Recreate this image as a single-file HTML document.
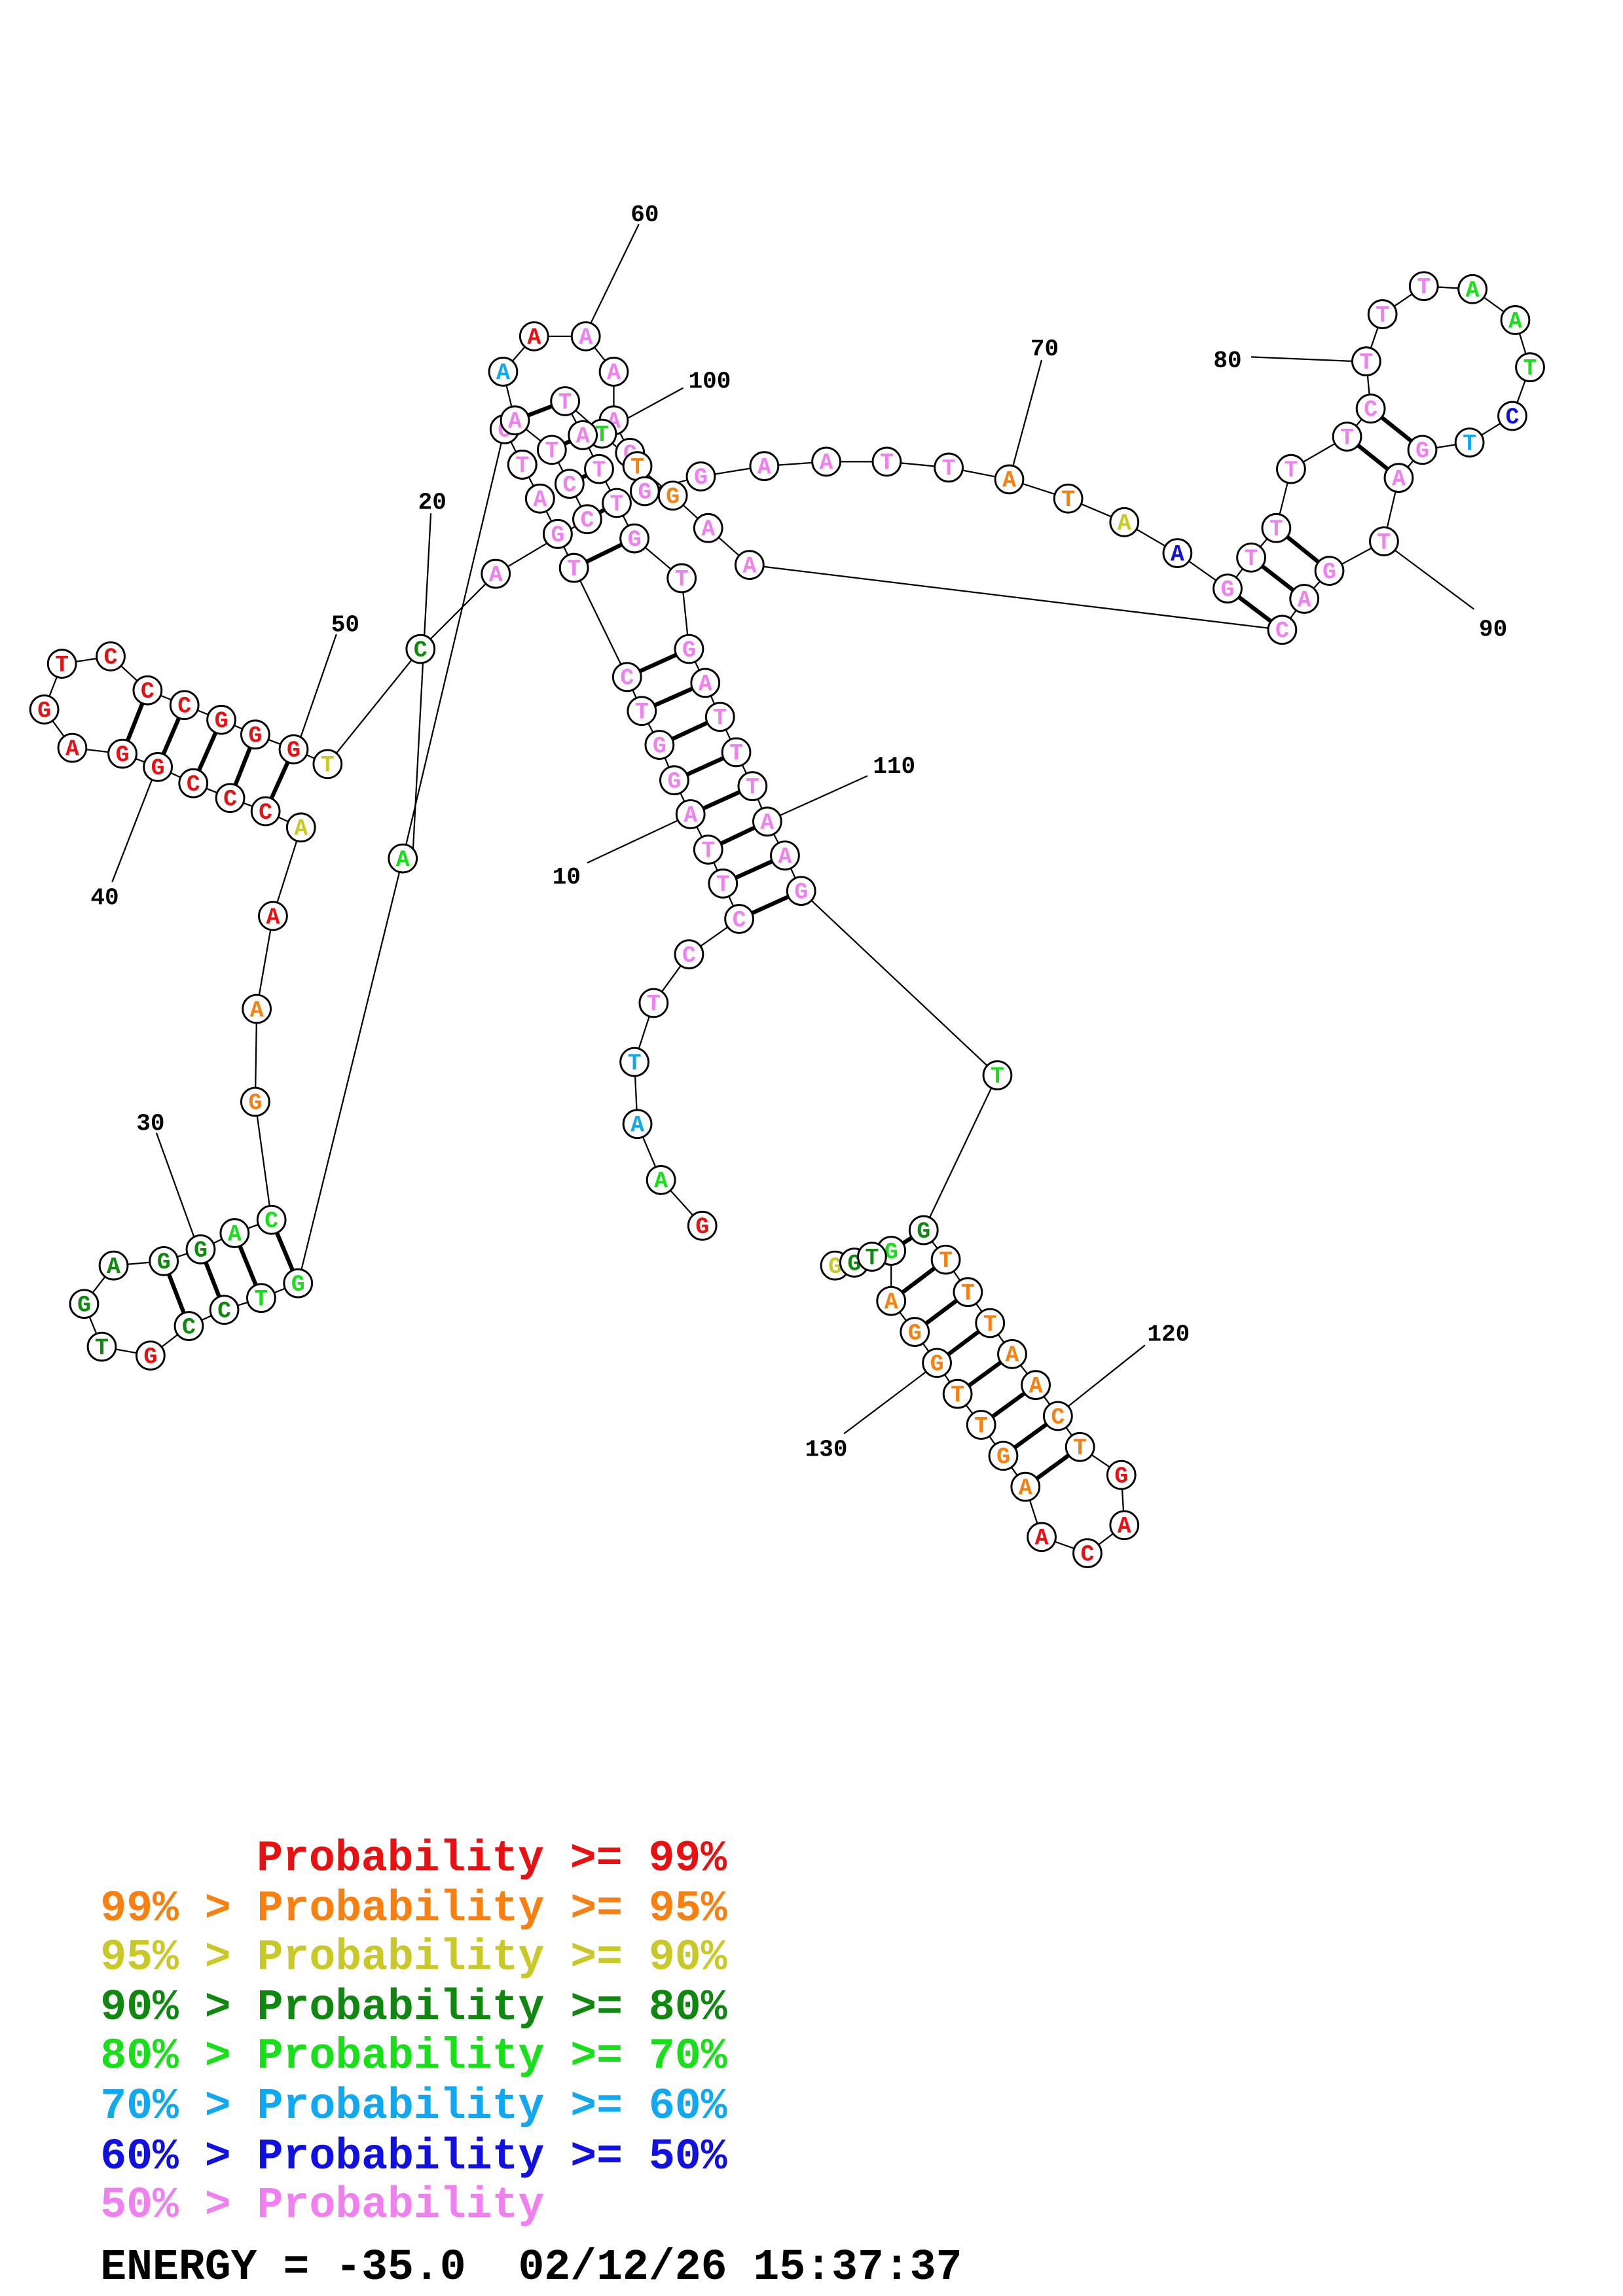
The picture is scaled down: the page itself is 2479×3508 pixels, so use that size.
<!DOCTYPE html>
<html><head><meta charset="utf-8"><style>
html,body{margin:0;padding:0;background:#fff}
svg{display:block}
.n circle{fill:#fff;stroke:#000;stroke-width:1.3}
.n text{font-family:"Liberation Mono",monospace;font-weight:bold;font-size:15.5px;text-anchor:middle}
.r{fill:#e81010}.o{fill:#f88010}.y{fill:#c8c828}.d{fill:#108810}.g{fill:#18e018}.s{fill:#10a8f0}.b{fill:#1010e0}.p{fill:#f080f0}
.lab{font-family:"Liberation Mono",monospace;font-size:16px;fill:#000;font-weight:bold}
.leg{font-family:"Liberation Mono",monospace;font-weight:bold;font-size:29.5px}
</style></head><body>
<svg width="2479" height="3508" viewBox="0 0 1100 1556.6" xmlns="http://www.w3.org/2000/svg">
<rect width="1100" height="1556.6" fill="#fff"/>
<g stroke="#000" stroke-width="1" fill="none">
<polyline points="476,831 448,800 432,762 430,720 443,680 467,647 501,623 490,599 480,576 468,552 457,529 447,505 435,482 425,459 389,385 378,362 366,338 354,315 342,291 273,582 202,870 177,880 152,888 128,899 102,919 69,913 57,884 77,858 111,855 136,847 159,836 184,827 173,747 174,684 185,621 204,561 180,550 156,541 131,531 107,520 83,511 49,507 30,481 42,450 75,445 100,468 125,478 150,488 173,498 199,508 222,518 285,440 336,389 398,352 386,328 374,305 349,285 341,252 362,228 397,228 416,252 416,285 427,307 437,333 475,323 518,316 560,313 601,313 643,317 684,325 724,338 762,354 798,375 832,399 848,378 865,358 875,318 913,296 929,277 926,245 937,213 965,194 998,196 1027,217 1037,249 1025,282 996,300 964,305 948,324 938,367 901,387 884,406 869,427 508,383 480,358 456,336 432,316 408,294 383,272 395,295 406,318 418,341 430,365 462,392 467,440 478,463 488,486 499,510 510,533 520,557 532,580 543,604 676,729 626,834 641,854 656,876 671,897 686,918 702,939 717,960 732,981 760,1000 762,1034 737,1053 706,1042 695,1008 680,987 665,966 649,945 635,924 620,903 604,882 604,848 591,852 579,856 566,858"/>
<line x1="433" y1="152" x2="399" y2="222"/>
<line x1="463" y1="263" x2="410" y2="292"/>
<line x1="292" y1="348" x2="280" y2="575"/>
<line x1="228" y1="430" x2="203" y2="502"/>
<line x1="76" y1="598" x2="104" y2="526"/>
<line x1="106" y1="768" x2="132" y2="840"/>
<line x1="398" y1="585" x2="462" y2="555"/>
<line x1="588" y1="526" x2="526" y2="554"/>
<line x1="706" y1="244" x2="686" y2="318"/>
<line x1="848" y1="242" x2="919" y2="245"/>
<line x1="999" y1="413" x2="944" y2="372"/>
<line x1="776" y1="912" x2="722" y2="955"/>
<line x1="572" y1="972" x2="629" y2="929"/>
</g>
<g stroke="#000" stroke-width="2.8">
<line x1="425" y1="459" x2="467" y2="440"/><line x1="435" y1="482" x2="478" y2="463"/>
<line x1="447" y1="505" x2="488" y2="486"/><line x1="457" y1="529" x2="499" y2="510"/>
<line x1="468" y1="552" x2="510" y2="533"/><line x1="480" y1="576" x2="520" y2="557"/>
<line x1="490" y1="599" x2="532" y2="580"/><line x1="501" y1="623" x2="543" y2="604"/>
<line x1="389" y1="385" x2="430" y2="365"/><line x1="398" y1="352" x2="418" y2="341"/>
<line x1="386" y1="328" x2="406" y2="318"/><line x1="374" y1="305" x2="395" y2="295"/>
<line x1="349" y1="285" x2="383" y2="272"/>
<line x1="180" y1="550" x2="199" y2="508"/><line x1="156" y1="541" x2="173" y2="498"/>
<line x1="131" y1="531" x2="150" y2="488"/><line x1="107" y1="520" x2="125" y2="478"/>
<line x1="83" y1="511" x2="100" y2="468"/>
<line x1="202" y1="870" x2="184" y2="827"/><line x1="177" y1="880" x2="159" y2="836"/>
<line x1="152" y1="888" x2="136" y2="847"/><line x1="128" y1="899" x2="111" y2="855"/>
<line x1="832" y1="399" x2="869" y2="427"/><line x1="848" y1="378" x2="884" y2="406"/>
<line x1="865" y1="358" x2="901" y2="387"/><line x1="913" y1="296" x2="948" y2="324"/>
<line x1="929" y1="277" x2="964" y2="305"/>
<line x1="626" y1="834" x2="604" y2="848"/><line x1="641" y1="854" x2="604" y2="882"/>
<line x1="656" y1="876" x2="620" y2="903"/><line x1="671" y1="897" x2="635" y2="924"/>
<line x1="686" y1="918" x2="649" y2="945"/><line x1="702" y1="939" x2="665" y2="966"/>
<line x1="717" y1="960" x2="680" y2="987"/><line x1="732" y1="981" x2="695" y2="1008"/>
</g>
<g class="n">
<g transform="translate(476,831)"><circle r="9.5"/><text y="5" class="r">G</text></g>
<g transform="translate(448,800)"><circle r="9.5"/><text y="5" class="g">A</text></g>
<g transform="translate(432,762)"><circle r="9.5"/><text y="5" class="s">A</text></g>
<g transform="translate(430,720)"><circle r="9.5"/><text y="5" class="s">T</text></g>
<g transform="translate(443,680)"><circle r="9.5"/><text y="5" class="p">T</text></g>
<g transform="translate(467,647)"><circle r="9.5"/><text y="5" class="p">C</text></g>
<g transform="translate(501,623)"><circle r="9.5"/><text y="5" class="p">C</text></g>
<g transform="translate(490,599)"><circle r="9.5"/><text y="5" class="p">T</text></g>
<g transform="translate(480,576)"><circle r="9.5"/><text y="5" class="p">T</text></g>
<g transform="translate(468,552)"><circle r="9.5"/><text y="5" class="p">A</text></g>
<g transform="translate(457,529)"><circle r="9.5"/><text y="5" class="p">G</text></g>
<g transform="translate(447,505)"><circle r="9.5"/><text y="5" class="p">G</text></g>
<g transform="translate(435,482)"><circle r="9.5"/><text y="5" class="p">T</text></g>
<g transform="translate(425,459)"><circle r="9.5"/><text y="5" class="p">C</text></g>
<g transform="translate(389,385)"><circle r="9.5"/><text y="5" class="p">T</text></g>
<g transform="translate(378,362)"><circle r="9.5"/><text y="5" class="p">G</text></g>
<g transform="translate(366,338)"><circle r="9.5"/><text y="5" class="p">A</text></g>
<g transform="translate(354,315)"><circle r="9.5"/><text y="5" class="p">T</text></g>
<g transform="translate(342,291)"><circle r="9.5"/><text y="5" class="p">C</text></g>
<g transform="translate(273,582)"><circle r="9.5"/><text y="5" class="g">A</text></g>
<g transform="translate(202,870)"><circle r="9.5"/><text y="5" class="g">G</text></g>
<g transform="translate(177,880)"><circle r="9.5"/><text y="5" class="g">T</text></g>
<g transform="translate(152,888)"><circle r="9.5"/><text y="5" class="d">C</text></g>
<g transform="translate(128,899)"><circle r="9.5"/><text y="5" class="d">C</text></g>
<g transform="translate(102,919)"><circle r="9.5"/><text y="5" class="r">G</text></g>
<g transform="translate(69,913)"><circle r="9.5"/><text y="5" class="d">T</text></g>
<g transform="translate(57,884)"><circle r="9.5"/><text y="5" class="d">G</text></g>
<g transform="translate(77,858)"><circle r="9.5"/><text y="5" class="d">A</text></g>
<g transform="translate(111,855)"><circle r="9.5"/><text y="5" class="d">G</text></g>
<g transform="translate(136,847)"><circle r="9.5"/><text y="5" class="d">G</text></g>
<g transform="translate(159,836)"><circle r="9.5"/><text y="5" class="g">A</text></g>
<g transform="translate(184,827)"><circle r="9.5"/><text y="5" class="g">C</text></g>
<g transform="translate(173,747)"><circle r="9.5"/><text y="5" class="o">G</text></g>
<g transform="translate(174,684)"><circle r="9.5"/><text y="5" class="o">A</text></g>
<g transform="translate(185,621)"><circle r="9.5"/><text y="5" class="r">A</text></g>
<g transform="translate(204,561)"><circle r="9.5"/><text y="5" class="y">A</text></g>
<g transform="translate(180,550)"><circle r="9.5"/><text y="5" class="r">C</text></g>
<g transform="translate(156,541)"><circle r="9.5"/><text y="5" class="r">C</text></g>
<g transform="translate(131,531)"><circle r="9.5"/><text y="5" class="r">C</text></g>
<g transform="translate(107,520)"><circle r="9.5"/><text y="5" class="r">G</text></g>
<g transform="translate(83,511)"><circle r="9.5"/><text y="5" class="r">G</text></g>
<g transform="translate(49,507)"><circle r="9.5"/><text y="5" class="r">A</text></g>
<g transform="translate(30,481)"><circle r="9.5"/><text y="5" class="r">G</text></g>
<g transform="translate(42,450)"><circle r="9.5"/><text y="5" class="r">T</text></g>
<g transform="translate(75,445)"><circle r="9.5"/><text y="5" class="r">C</text></g>
<g transform="translate(100,468)"><circle r="9.5"/><text y="5" class="r">C</text></g>
<g transform="translate(125,478)"><circle r="9.5"/><text y="5" class="r">C</text></g>
<g transform="translate(150,488)"><circle r="9.5"/><text y="5" class="r">G</text></g>
<g transform="translate(173,498)"><circle r="9.5"/><text y="5" class="r">G</text></g>
<g transform="translate(199,508)"><circle r="9.5"/><text y="5" class="r">G</text></g>
<g transform="translate(222,518)"><circle r="9.5"/><text y="5" class="y">T</text></g>
<g transform="translate(285,440)"><circle r="9.5"/><text y="5" class="d">C</text></g>
<g transform="translate(341,252)"><circle r="9.5"/><text y="5" class="s">A</text></g>
<g transform="translate(362,228)"><circle r="9.5"/><text y="5" class="r">A</text></g>
<g transform="translate(397,228)"><circle r="9.5"/><text y="5" class="p">A</text></g>
<g transform="translate(416,252)"><circle r="9.5"/><text y="5" class="p">A</text></g>
<g transform="translate(416,285)"><circle r="9.5"/><text y="5" class="p">A</text></g>
<g transform="translate(349,285)"><circle r="9.5"/><text y="5" class="p">A</text></g>
<g transform="translate(383,272)"><circle r="9.5"/><text y="5" class="p">T</text></g>
<g transform="translate(354,315)"><circle r="9.5"/><text y="5" class="p">T</text></g>
<g transform="translate(374,305)"><circle r="9.5"/><text y="5" class="p">T</text></g>
<g transform="translate(427,307)"><circle r="9.5"/><text y="5" class="p">C</text></g>
<g transform="translate(408,294)"><circle r="9.5"/><text y="5" class="g">T</text></g>
<g transform="translate(395,295)"><circle r="9.5"/><text y="5" class="p">A</text></g>
<g transform="translate(432,316)"><circle r="9.5"/><text y="5" class="o">T</text></g>
<g transform="translate(406,318)"><circle r="9.5"/><text y="5" class="p">T</text></g>
<g transform="translate(386,328)"><circle r="9.5"/><text y="5" class="p">C</text></g>
<g transform="translate(366,338)"><circle r="9.5"/><text y="5" class="p">A</text></g>
<g transform="translate(418,341)"><circle r="9.5"/><text y="5" class="p">T</text></g>
<g transform="translate(398,352)"><circle r="9.5"/><text y="5" class="p">C</text></g>
<g transform="translate(378,362)"><circle r="9.5"/><text y="5" class="p">G</text></g>
<g transform="translate(437,333)"><circle r="9.5"/><text y="5" class="p">G</text></g>
<g transform="translate(475,323)"><circle r="9.5"/><text y="5" class="p">G</text></g>
<g transform="translate(456,336)"><circle r="9.5"/><text y="5" class="o">G</text></g>
<g transform="translate(480,358)"><circle r="9.5"/><text y="5" class="p">A</text></g>
<g transform="translate(430,365)"><circle r="9.5"/><text y="5" class="p">G</text></g>
<g transform="translate(389,385)"><circle r="9.5"/><text y="5" class="p">T</text></g>
<g transform="translate(336,389)"><circle r="9.5"/><text y="5" class="p">A</text></g>
<g transform="translate(462,392)"><circle r="9.5"/><text y="5" class="p">T</text></g>
<g transform="translate(508,383)"><circle r="9.5"/><text y="5" class="p">A</text></g>
<g transform="translate(518,316)"><circle r="9.5"/><text y="5" class="p">A</text></g>
<g transform="translate(560,313)"><circle r="9.5"/><text y="5" class="p">A</text></g>
<g transform="translate(601,313)"><circle r="9.5"/><text y="5" class="p">T</text></g>
<g transform="translate(643,317)"><circle r="9.5"/><text y="5" class="p">T</text></g>
<g transform="translate(684,325)"><circle r="9.5"/><text y="5" class="o">A</text></g>
<g transform="translate(724,338)"><circle r="9.5"/><text y="5" class="o">T</text></g>
<g transform="translate(762,354)"><circle r="9.5"/><text y="5" class="y">A</text></g>
<g transform="translate(798,375)"><circle r="9.5"/><text y="5" class="b">A</text></g>
<g transform="translate(832,399)"><circle r="9.5"/><text y="5" class="p">G</text></g>
<g transform="translate(848,378)"><circle r="9.5"/><text y="5" class="p">T</text></g>
<g transform="translate(865,358)"><circle r="9.5"/><text y="5" class="p">T</text></g>
<g transform="translate(875,318)"><circle r="9.5"/><text y="5" class="p">T</text></g>
<g transform="translate(913,296)"><circle r="9.5"/><text y="5" class="p">T</text></g>
<g transform="translate(929,277)"><circle r="9.5"/><text y="5" class="p">C</text></g>
<g transform="translate(926,245)"><circle r="9.5"/><text y="5" class="p">T</text></g>
<g transform="translate(937,213)"><circle r="9.5"/><text y="5" class="p">T</text></g>
<g transform="translate(965,194)"><circle r="9.5"/><text y="5" class="p">T</text></g>
<g transform="translate(998,196)"><circle r="9.5"/><text y="5" class="g">A</text></g>
<g transform="translate(1027,217)"><circle r="9.5"/><text y="5" class="g">A</text></g>
<g transform="translate(1037,249)"><circle r="9.5"/><text y="5" class="g">T</text></g>
<g transform="translate(1025,282)"><circle r="9.5"/><text y="5" class="b">C</text></g>
<g transform="translate(996,300)"><circle r="9.5"/><text y="5" class="s">T</text></g>
<g transform="translate(964,305)"><circle r="9.5"/><text y="5" class="p">G</text></g>
<g transform="translate(948,324)"><circle r="9.5"/><text y="5" class="p">A</text></g>
<g transform="translate(938,367)"><circle r="9.5"/><text y="5" class="p">T</text></g>
<g transform="translate(901,387)"><circle r="9.5"/><text y="5" class="p">G</text></g>
<g transform="translate(884,406)"><circle r="9.5"/><text y="5" class="p">A</text></g>
<g transform="translate(869,427)"><circle r="9.5"/><text y="5" class="p">C</text></g>
<g transform="translate(467,440)"><circle r="9.5"/><text y="5" class="p">G</text></g>
<g transform="translate(478,463)"><circle r="9.5"/><text y="5" class="p">A</text></g>
<g transform="translate(488,486)"><circle r="9.5"/><text y="5" class="p">T</text></g>
<g transform="translate(499,510)"><circle r="9.5"/><text y="5" class="p">T</text></g>
<g transform="translate(510,533)"><circle r="9.5"/><text y="5" class="p">T</text></g>
<g transform="translate(520,557)"><circle r="9.5"/><text y="5" class="p">A</text></g>
<g transform="translate(532,580)"><circle r="9.5"/><text y="5" class="p">A</text></g>
<g transform="translate(543,604)"><circle r="9.5"/><text y="5" class="p">G</text></g>
<g transform="translate(676,729)"><circle r="9.5"/><text y="5" class="g">T</text></g>
<g transform="translate(566,858)"><circle r="9.5"/><text y="5" class="y">G</text></g>
<g transform="translate(579,856)"><circle r="9.5"/><text y="5" class="d">G</text></g>
<g transform="translate(604,848)"><circle r="9.5"/><text y="5" class="g">G</text></g>
<g transform="translate(591,852)"><circle r="9.5"/><text y="5" class="d">T</text></g>
<g transform="translate(626,834)"><circle r="9.5"/><text y="5" class="d">G</text></g>
<g transform="translate(641,854)"><circle r="9.5"/><text y="5" class="o">T</text></g>
<g transform="translate(656,876)"><circle r="9.5"/><text y="5" class="o">T</text></g>
<g transform="translate(671,897)"><circle r="9.5"/><text y="5" class="o">T</text></g>
<g transform="translate(686,918)"><circle r="9.5"/><text y="5" class="o">A</text></g>
<g transform="translate(702,939)"><circle r="9.5"/><text y="5" class="o">A</text></g>
<g transform="translate(717,960)"><circle r="9.5"/><text y="5" class="o">C</text></g>
<g transform="translate(732,981)"><circle r="9.5"/><text y="5" class="o">T</text></g>
<g transform="translate(760,1000)"><circle r="9.5"/><text y="5" class="r">G</text></g>
<g transform="translate(762,1034)"><circle r="9.5"/><text y="5" class="r">A</text></g>
<g transform="translate(737,1053)"><circle r="9.5"/><text y="5" class="r">C</text></g>
<g transform="translate(706,1042)"><circle r="9.5"/><text y="5" class="r">A</text></g>
<g transform="translate(695,1008)"><circle r="9.5"/><text y="5" class="o">A</text></g>
<g transform="translate(680,987)"><circle r="9.5"/><text y="5" class="o">G</text></g>
<g transform="translate(665,966)"><circle r="9.5"/><text y="5" class="o">T</text></g>
<g transform="translate(649,945)"><circle r="9.5"/><text y="5" class="o">T</text></g>
<g transform="translate(635,924)"><circle r="9.5"/><text y="5" class="o">G</text></g>
<g transform="translate(620,903)"><circle r="9.5"/><text y="5" class="o">G</text></g>
<g transform="translate(604,882)"><circle r="9.5"/><text y="5" class="o">A</text></g>
</g>
<g class="lab" text-anchor="middle">
<text x="437" y="150">60</text>
<text x="481" y="263">100</text>
<text x="293" y="345">20</text>
<text x="234" y="428">50</text>
<text x="71" y="613">40</text>
<text x="102" y="766">30</text>
<text x="384" y="599">10</text>
<text x="606" y="524">110</text>
<text x="708" y="241">70</text>
<text x="832" y="249">80</text>
<text x="1012" y="431">90</text>
<text x="792" y="909">120</text>
<text x="560" y="987">130</text>
</g>
<g class="leg">
<text x="174" y="1268" fill="#e81010">Probability &gt;= 99%</text>
<text x="68" y="1302" fill="#f88010">99% &gt; Probability &gt;= 95%</text>
<text x="68" y="1335" fill="#c8c828">95% &gt; Probability &gt;= 90%</text>
<text x="68" y="1369" fill="#108810">90% &gt; Probability &gt;= 80%</text>
<text x="68" y="1402" fill="#18e018">80% &gt; Probability &gt;= 70%</text>
<text x="68" y="1436" fill="#10a8f0">70% &gt; Probability &gt;= 60%</text>
<text x="68" y="1470" fill="#1010e0">60% &gt; Probability &gt;= 50%</text>
<text x="68" y="1503" fill="#f080f0">50% &gt; Probability</text>
<text x="68" y="1545" fill="#000" xml:space="preserve">ENERGY = -35.0  02/12/26 15:37:37</text>
</g>
</svg>
</body></html>
